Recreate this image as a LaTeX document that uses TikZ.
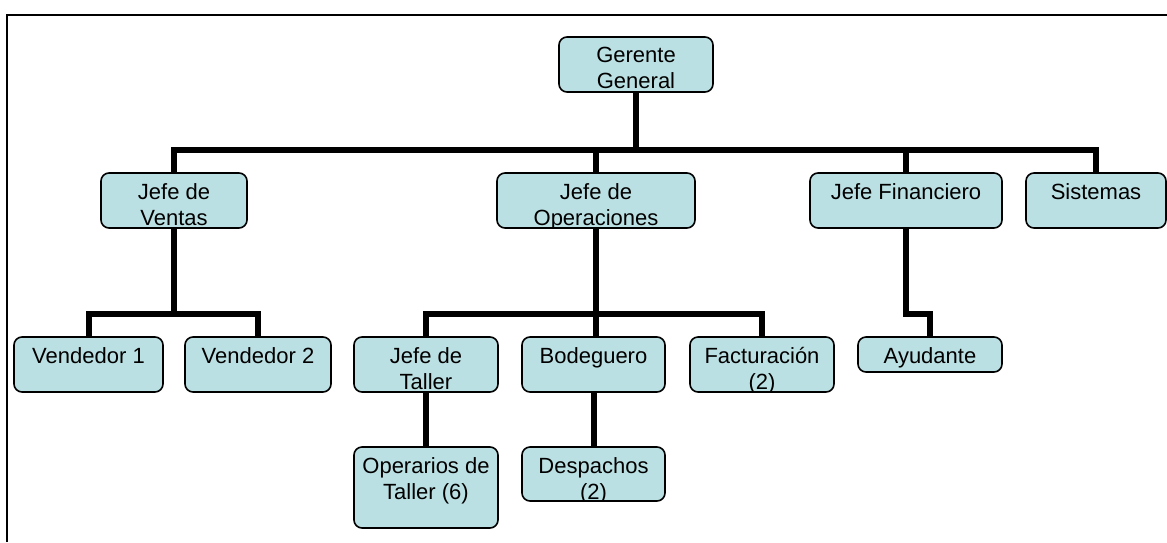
\documentclass[tikz,border=0pt]{standalone}
\usepackage{fontspec}
\setmainfont{Liberation Sans}
\newcommand\orgfont{\fontsize{22}{26}\selectfont}
\definecolor{orgfill}{HTML}{BBE0E3}
\pgfdeclarelayer{bg}
\pgfsetlayers{bg,main}
\tikzset{
  box/.style={draw=black, line width=1.6pt, fill=orgfill, rounded corners=8pt,
    anchor=north west, inner sep=0pt, outer sep=0pt},
  lbl/.style={draw=none, fill=none, rounded corners=0pt, minimum width=0pt,
    minimum height=0pt, font=\orgfont, align=center, anchor=north,
    inner sep=0pt, outer sep=0pt, text=black, yshift=-10.5pt},
  conn/.style={draw=black, line width=6pt, line join=miter},
  frame/.style={draw=black, line width=1.6pt},
}
\newcommand\orgbox[6]{% name, x, y, w, h, text
  \node[box, minimum width=#4pt, minimum height=#5pt,
    path picture={\node[lbl] (#1-t) at (path picture bounding box.north) {#6};}]
    (#1) at (#2,#3) {};}
\begin{document}
\begin{tikzpicture}[x=1pt, y=-1pt]
\useasboundingbox (0,0) rectangle (1167,542);
\draw[frame] (7,542) -- (7,15) -- (1167,15);

\orgbox{gg}{559}{37}{154}{55}{Gerente\\General}
\orgbox{jv}{101}{173}{146}{55}{Jefe de\\Ventas}
\orgbox{jo}{497}{173}{198}{55}{Jefe de\\Operaciones}
\orgbox{jf}{810}{173}{192}{55}{Jefe Financiero}
\orgbox{ss}{1026}{173}{140}{55}{Sistemas}
\orgbox{va}{14}{337}{149}{55}{Vendedor 1}
\orgbox{vb}{185}{337}{146}{55}{Vendedor 2}
\orgbox{jt}{354}{337}{144}{55}{Jefe de\\Taller}
\orgbox{bo}{522}{337}{143}{55}{Bodeguero}
\orgbox{fa}{690}{337}{144}{55}{Facturación\\(2)}
\orgbox{ay}{858}{337}{144}{35}{Ayudante}
\orgbox{op}{354}{447}{144}{81}{Operarios de\\Taller (6)}
\orgbox{de}{522}{447}{143}{54}{Despachos\\(2)}

\coordinate (barA) at (0,150);
\coordinate (barB) at (0,314);

\begin{pgfonlayer}{bg}
  \draw[conn] (jv.north) -- (jv.north |- barA) -- (ss.north |- barA) -- (ss.north);
  \draw[conn] (gg.south) -- (gg.south |- barA);
  \draw[conn] (jo.north) -- (jo.north |- barA);
  \draw[conn] (jf.north) -- (jf.north |- barA);
  \draw[conn] (jv.south) -- (jv.south |- barB);
  \draw[conn] (va.north) -- (va.north |- barB) -- (vb.north |- barB) -- (vb.north);
  \draw[conn] (jo.south) -- (jo.south |- bo.north);
  \draw[conn] (jt.north) -- (jt.north |- barB) -- (fa.north |- barB) -- (fa.north);
  \draw[conn] (jt.south) -- (op.north);
  \draw[conn] (bo.south) -- (de.north);
  \draw[conn] (jf.south) -- (jf.south |- barB) -| (ay.north);
\end{pgfonlayer}
\end{tikzpicture}
\end{document}
